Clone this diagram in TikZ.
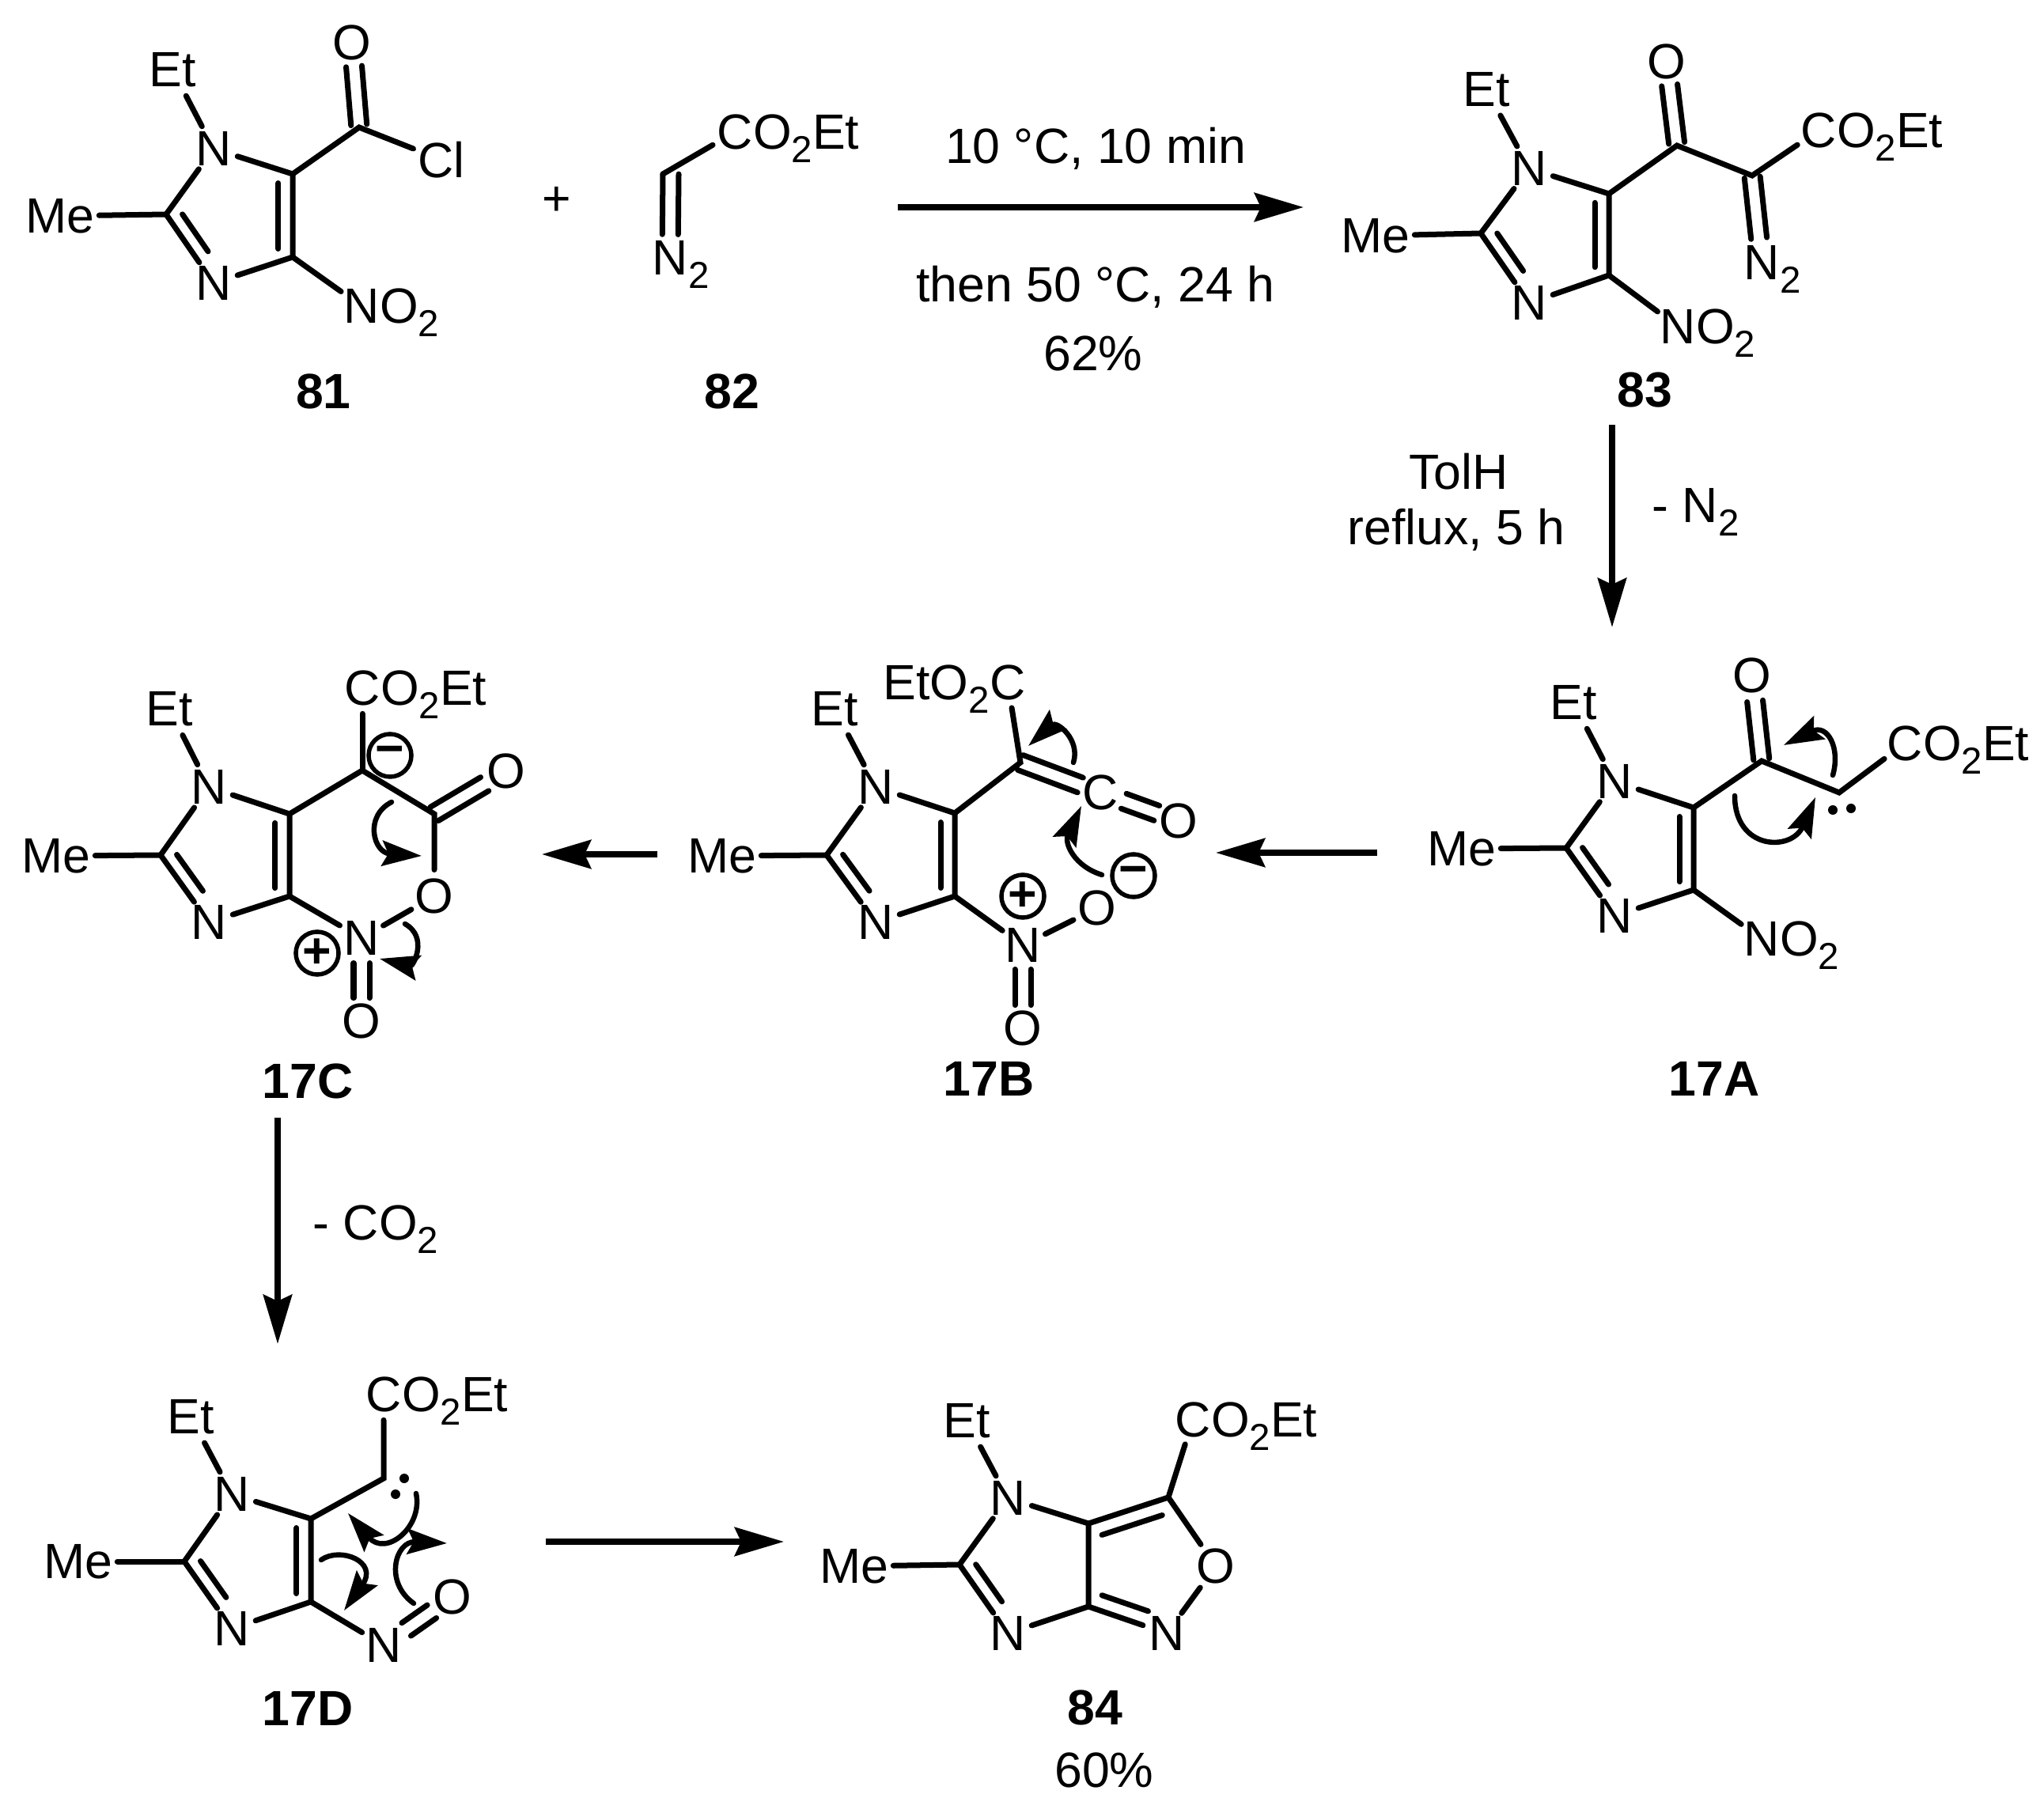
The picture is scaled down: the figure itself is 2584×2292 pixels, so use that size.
\documentclass[tikz,border=0pt]{standalone}
\usepackage{fontspec}
\setmainfont{Liberation Sans}
\usetikzlibrary{arrows.meta,calc}

\newcommand{\subtwo}{\raisebox{-.27em}{\fontsize{13.5}{15}\selectfont 2}}
\newcommand{\dblline}[5]{\draw[bond] ($(#1)!#3!(#2)!#5!90:(#2)$) -- ($(#1)!#4!(#2)!#5!90:(#2)$);}
\newcommand{\dblpair}[4]{\dblline{#1}{#2}{#3}{#4}{.1cm}\dblline{#1}{#2}{#3}{#4}{-.1cm}}
\newcommand{\imcore}[8]{
    \coordinate (c5-#1) at #2;
    \coordinate (c4-#1) at #3;
    \coordinate (c2-#1) at #6;
    \node[atom] (n1-#1) at #4 {N};
    \node[atom] (n3-#1) at #5 {N};
    \node[atom] (me-#1) at #7 {Me};
    \node[atom] (et-#1) at #8 {Et};
    \draw[bond] (n1-#1) -- (c5-#1) -- (c4-#1) -- (n3-#1) -- (c2-#1) -- (n1-#1) -- (et-#1);
    \draw[bond] (c2-#1) -- (me-#1);
    \dblline{c2-#1}{n3-#1}{.11}{.65}{.17cm}
}

\begin{document}
\begin{tikzpicture}[x=.01cm,y=-.01cm,
    font=\fontsize{17.8}{21}\selectfont,
    bond/.style={line width=.07cm,line cap=round},
    atom/.style={circle,inner sep=0pt},
    tail/.style={anchor=base west,inner sep=0pt},
    lead/.style={anchor=base east,inner sep=0pt},
    txt/.style={anchor=base,inner sep=0pt},
    name label/.style={anchor=base,inner sep=0pt,font=\fontsize{17.8}{21}\selectfont\bfseries},
    charge/.style={draw,circle,line width=.055cm,minimum size=.54cm,inner sep=0pt,font=\fontsize{17.8}{21}\selectfont\bfseries},
    lone/.style={circle,fill,inner sep=0pt,minimum size=.12cm},
    react/.style={line width=.08cm,-{Stealth[length=.62cm,width=.36cm,inset=.08cm]}},
    curly/.style={line width=.065cm,line cap=round,-{Stealth[length=.5cm,width=.32cm,inset=.08cm]}}]
    \useasboundingbox (0,0) rectangle (2584,2292);

    % 81
    \imcore{81}{(370,220)}{(370,325)}{(270,188)}{(270,358)}{(210,271)}{(76,273)}{(218,88)}
    \dblline{c5-81}{c4-81}{.11}{.9}{-.18cm}
    \coordinate (co-81) at (454,161);
    \node[atom] (o-81) at (445,54) {O};
    \node[atom] (cl-81) at (558,202) {Cl};
    \node[atom] (no-81) at (457,387) {N};
    \node[tail] (not-81) at ([xshift=.224cm]no-81.base) {O\subtwo};
    \draw[bond] (c5-81) -- (co-81) -- (cl-81);
    \draw[bond] (c4-81) -- (no-81);
    \dblpair{co-81}{o-81}{.03}{.72}
    \node[txt] (plus-81) at (704,273) {+};
    \node[name label] (lab-81) at (409,517) {81};

    % 82
    \coordinate (c-82) at (838,220);
    \coordinate (cd-82) at (848,220);
    \node[atom] (n-82) at (847,326) {N};
    \node[tail] (nt-82) at ([xshift=.224cm]n-82.base) {\subtwo};
    \node[atom] (e-82) at (929,167) {C};
    \node[tail] (et-82) at ([xshift=.224cm]e-82.base) {O\subtwo Et};
    \draw[bond] (c-82) -- (e-82);
    \dblpair{cd-82}{n-82}{0}{.72}
    \node[name label] (lab-82) at (925,517) {82};

    % 83
    \imcore{83}{(2034,245)}{(2034,348)}{(1933,213)}{(1933,383)}{(1872,295)}{(1739,298)}{(1879,113)}
    \dblline{c5-83}{c4-83}{.11}{.9}{-.18cm}
    \coordinate (co-83) at (2120,184);
    \coordinate (cd-83) at (2215,222);
    \node[atom] (o-83) at (2107,78) {O};
    \node[atom] (e-83) at (2299,165) {C};
    \node[tail] (et-83) at ([xshift=.224cm]e-83.base) {O\subtwo Et};
    \node[atom] (nd-83) at (2227,332) {N};
    \node[tail] (ndt-83) at ([xshift=.224cm]nd-83.base) {\subtwo};
    \node[atom] (no-83) at (2121,413) {N};
    \node[tail] (not-83) at ([xshift=.224cm]no-83.base) {O\subtwo};
    \draw[bond] (c5-83) -- (co-83) -- (cd-83) -- (e-83);
    \draw[bond] (c4-83) -- (no-83);
    \dblpair{co-83}{o-83}{.03}{.72}
    \dblpair{cd-83}{nd-83}{.02}{.72}
    \node[name label] (lab-83) at (2079,515) {83};

    % first arrow and conditions
    \coordinate (s1) at (1135,262);
    \coordinate (e1) at (1648,262);
    \draw[react] (s1) -- (e1);
    \node[txt] (t1) at (1385,207) {10 °C, 10 min};
    \node[txt] (t2) at (1385,382) {then 50 °C, 24 h};
    \node[txt] (t3) at (1382,469) {62\%};

    % 83 to 17A
    \coordinate (s2) at (2038,537);
    \coordinate (e2) at (2038,793);
    \draw[react] (s2) -- (e2);
    \node[txt] (t4) at (1844,619) {TolH};
    \node[txt] (t5) at (1841,689) {reflux, 5 h};
    \node[tail] (t6) at (2088,661) {- N\subtwo};

    % 17A
    \imcore{A}{(2141,1021)}{(2141,1125)}{(2041,988)}{(2041,1158)}{(1980,1072)}{(1848,1073)}{(1989,888)}
    \dblline{c5-A}{c4-A}{.11}{.9}{-.18cm}
    \coordinate (co-A) at (2227,962);
    \coordinate (ch-A) at (2325,1002);
    \node[atom] (o-A) at (2215,854) {O};
    \node[atom] (e-A) at (2408,940) {C};
    \node[tail] (et-A) at ([xshift=.224cm]e-A.base) {O\subtwo Et};
    \node[atom] (no-A) at (2227,1187) {N};
    \node[tail] (not-A) at ([xshift=.224cm]no-A.base) {O\subtwo};
    \draw[bond] (c5-A) -- (co-A) -- (ch-A) -- (e-A);
    \draw[bond] (c4-A) -- (no-A);
    \dblpair{co-A}{o-A}{.02}{.70}
    \node[lone] (d1-A) at (2317,1024) {};
    \node[lone] (d2-A) at (2340,1022) {};
    \coordinate (s3) at (2317,980);
    \coordinate (e3) at (2255,942);
    \draw[curly] (s3) .. controls (2327,945) and (2310,915) .. (e3);
    \coordinate (s4) at (2193,1006);
    \coordinate (e4) at (2295,1008);
    \draw[curly] (s4) .. controls (2193,1075) and (2265,1077) .. (e4);
    \node[name label] (lab-A) at (2167,1386) {17A};

    % 17A to 17B
    \coordinate (s5) at (1741,1078);
    \coordinate (e5) at (1537,1078);
    \draw[react] (s5) -- (e5);

    % 17B
    \imcore{B}{(1207,1028)}{(1207,1133)}{(1107,995)}{(1107,1166)}{(1045,1081)}{(913,1082)}{(1055,896)}
    \dblline{c5-B}{c4-B}{.11}{.9}{-.18cm}
    \coordinate (cv-B) at (1290,964);
    \node[atom] (e-B) at (1274,863) {C};
    \node[lead] (et-B) at ([xshift=-.224cm]e-B.base) {EtO\subtwo};
    \node[atom] (ck-B) at (1391,1002) {C};
    \node[atom] (o-B) at (1490,1038) {O};
    \node[atom] (no-B) at (1293,1195) {N};
    \node[atom] (o1-B) at (1387,1148) {O};
    \node[atom] (o2-B) at (1293,1300) {O};
    \node[charge] (pl-B) at (1293,1133) {+};
    \node[charge] (mi-B) at (1433,1107) {−};
    \draw[bond] (c5-B) -- (cv-B) -- (e-B);
    \draw[bond] (c4-B) -- (no-B) -- (o1-B);
    \dblpair{cv-B}{ck-B}{.0}{.75}
    \dblpair{ck-B}{o-B}{.30}{.72}
    \dblpair{no-B}{o2-B}{.29}{.72}
    \coordinate (s6) at (1357,964);
    \coordinate (e6) at (1300,943);
    \draw[curly] (s6) .. controls (1366,935) and (1336,911) .. (e6);
    \coordinate (s7) at (1393,1106);
    \coordinate (e7) at (1367,1019);
    \draw[curly] (s7) .. controls (1358,1095) and (1345,1066) .. (e7);
    \node[name label] (lab-B) at (1250,1386) {17B};

    % 17B to 17C
    \coordinate (s8) at (831,1080);
    \coordinate (e8) at (685,1080);
    \draw[react] (s8) -- (e8);

    % 17C
    \imcore{C}{(366,1029)}{(366,1133)}{(264,995)}{(264,1166)}{(203,1081)}{(71,1082)}{(214,896)}
    \dblline{c5-C}{c4-C}{.11}{.9}{-.18cm}
    \coordinate (cq-C) at (458,974);
    \coordinate (co-C) at (549,1029);
    \node[atom] (e-C) at (458,870) {C};
    \node[tail] (et-C) at ([xshift=.224cm]e-C.base) {O\subtwo Et};
    \node[atom] (o-C) at (640,975) {O};
    \node[atom] (o1-C) at (549,1133) {O};
    \node[atom] (no-C) at (457,1186) {N};
    \node[atom] (o2-C) at (457,1291) {O};
    \node[charge] (mi-C) at (493,955) {−};
    \node[charge] (pl-C) at (401,1205) {+};
    \draw[bond] (c5-C) -- (cq-C) -- (co-C) -- (o1-C) -- (no-C) -- (c4-C);
    \draw[bond] (cq-C) -- (e-C);
    \dblpair{co-C}{o-C}{.0}{.70}
    \dblpair{no-C}{o2-C}{.30}{.72}
    \coordinate (s9) at (495,1014);
    \coordinate (e9) at (533,1082);
    \draw[curly] (s9) .. controls (460,1032) and (472,1078) .. (e9);
    \coordinate (s10) at (512,1168);
    \coordinate (e10) at (480,1212);
    \draw[curly] (s10) .. controls (542,1185) and (522,1222) .. (e10);
    \node[name label] (lab-C) at (389,1389) {17C};

    % 17C to 17D
    \coordinate (s11) at (351,1413);
    \coordinate (e11) at (351,1699);
    \draw[react] (s11) -- (e11);
    \node[tail] (t7) at (395,1568) {- CO\subtwo};

    % 17D
    \imcore{D}{(393,1920)}{(393,2025)}{(293,1889)}{(293,2059)}{(233,1974)}{(99,1974)}{(241,1791)}
    \dblline{c5-D}{c4-D}{.11}{.9}{-.18cm}
    \coordinate (ch-D) at (485,1869);
    \node[atom] (e-D) at (485,1763) {C};
    \node[tail] (et-D) at ([xshift=.224cm]e-D.base) {O\subtwo Et};
    \node[atom] (no-D) at (485,2080) {N};
    \node[atom] (o-D) at (572,2019) {O};
    \draw[bond] (c5-D) -- (ch-D) -- (e-D);
    \draw[bond] (c4-D) -- (no-D);
    \dblpair{no-D}{o-D}{.33}{.70}
    \node[lone] (d1-D) at (511,1869) {};
    \node[lone] (d2-D) at (500,1889) {};
    \coordinate (s12) at (526,1888);
    \coordinate (e12) at (440,1913);
    \draw[curly] (s12) .. controls (535,1930) and (488,1969) .. (e12);
    \coordinate (s13) at (523,2027);
    \coordinate (e13) at (565,1951);
    \draw[curly] (s13) .. controls (485,2000) and (500,1948) .. (e13);
    \coordinate (s14) at (406,1972);
    \coordinate (e14) at (435,2036);
    \draw[curly] (s14) .. controls (430,1955) and (479,1974) .. (e14);
    \node[name label] (lab-D) at (389,2181) {17D};

    % 17D to 84
    \coordinate (s15) at (690,1949);
    \coordinate (e15) at (991,1949);
    \draw[react] (s15) -- (e15);

    % 84
    \imcore{84}{(1376,1926)}{(1376,2031)}{(1274,1894)}{(1274,2065)}{(1213,1978)}{(1080,1980)}{(1222,1796)}
    \coordinate (c3-84) at (1477,1893);
    \node[atom] (e-84) at (1508,1795) {C};
    \node[tail] (et-84) at ([xshift=.224cm]e-84.base) {O\subtwo Et};
    \node[atom] (o-84) at (1537,1980) {O};
    \node[atom] (n-84) at (1475,2065) {N};
    \draw[bond] (c5-84) -- (c3-84) -- (o-84) -- (n-84) -- (c4-84);
    \draw[bond] (c3-84) -- (e-84);
    \dblline{c5-84}{c3-84}{.11}{.865}{-.19cm}
    \dblline{c4-84}{n-84}{.11}{.70}{.19cm}
    \node[name label] (lab-84) at (1384,2180) {84};
    \node[txt] (t8) at (1396,2259) {60\%};
\end{tikzpicture}
\end{document}
